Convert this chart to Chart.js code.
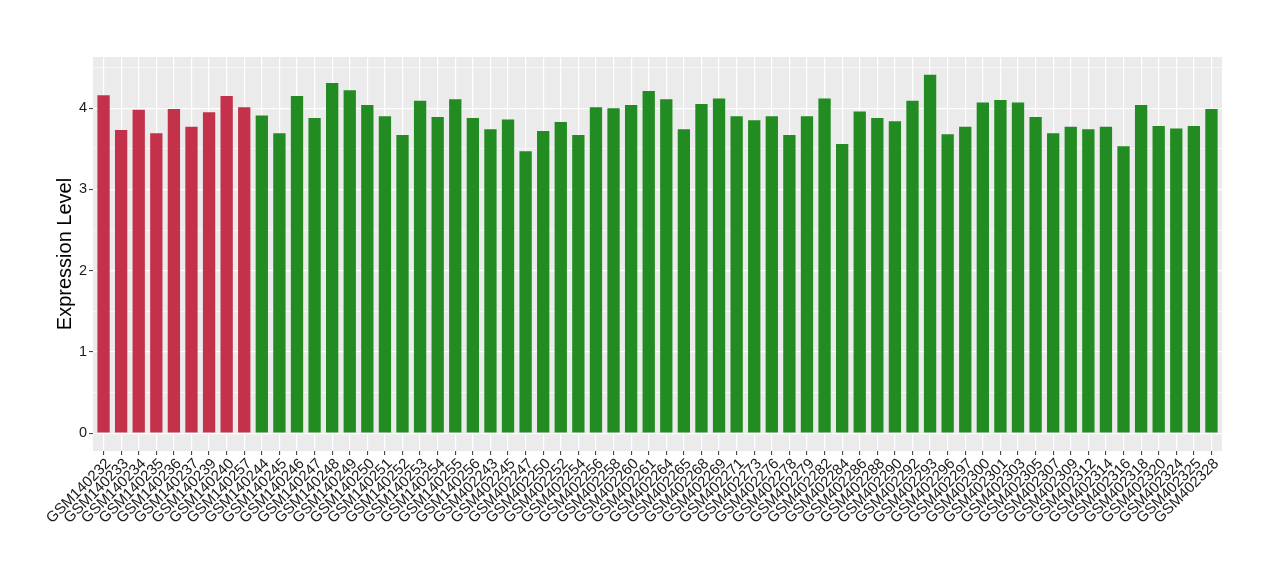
<!DOCTYPE html>
<html>
<head>
<meta charset="utf-8">
<script src="https://cdn.jsdelivr.net/npm/chart.js@4/dist/chart.umd.min.js"></script>
<style>
  html, body { margin: 0; padding: 0; background: #fff; }
  #wrap { width: 1280px; height: 580px; }
</style>
</head>
<body>
<div id="wrap"><canvas id="chart" width="1280" height="580"></canvas></div>
<script>
// sample names along the x axis
const samples = [
  'GSM140232', 'GSM140233', 'GSM140234', 'GSM140235', 'GSM140236', 'GSM140237', 'GSM140239', 'GSM140240', 'GSM140257',
  'GSM140244', 'GSM140245', 'GSM140246', 'GSM140247', 'GSM140248', 'GSM140249', 'GSM140250', 'GSM140251', 'GSM140252',
  'GSM140253', 'GSM140254', 'GSM140255', 'GSM140256', 'GSM402243', 'GSM402245', 'GSM402247', 'GSM402250', 'GSM402252',
  'GSM402254', 'GSM402256', 'GSM402258', 'GSM402260', 'GSM402261', 'GSM402264', 'GSM402265', 'GSM402268', 'GSM402269',
  'GSM402271', 'GSM402273', 'GSM402276', 'GSM402278', 'GSM402279', 'GSM402282', 'GSM402284', 'GSM402286', 'GSM402288',
  'GSM402290', 'GSM402292', 'GSM402293', 'GSM402296', 'GSM402297', 'GSM402300', 'GSM402301', 'GSM402303', 'GSM402305',
  'GSM402307', 'GSM402309', 'GSM402312', 'GSM402314', 'GSM402316', 'GSM402318', 'GSM402320', 'GSM402324', 'GSM402325',
  'GSM402328'
];

// expression level per sample
const expression = [
  4.16, 3.73, 3.98, 3.69, 3.99, 3.77, 3.95, 4.15, 4.01,
  3.91, 3.69, 4.15, 3.88, 4.31, 4.22, 4.04, 3.90, 3.67,
  4.09, 3.89, 4.11, 3.88, 3.74, 3.86, 3.47, 3.72, 3.83,
  3.67, 4.01, 4.00, 4.04, 4.21, 4.11, 3.74, 4.05, 4.12,
  3.90, 3.85, 3.90, 3.67, 3.90, 4.12, 3.56, 3.96, 3.88,
  3.84, 4.09, 4.41, 3.68, 3.77, 4.07, 4.10, 4.07, 3.89,
  3.69, 3.77, 3.74, 3.77, 3.53, 4.04, 3.78, 3.75, 3.78,
  3.99
];

// the first group of samples is drawn in red, the rest in green
const redCount = 9;
const yTicks = [0, 0.5, 1, 1.5, 2, 2.5, 3, 3.5, 4, 4.5];

const RED = '#C4314B';
const GREEN = '#228B22';
const FONT = '"Liberation Sans", Arial, Helvetica, sans-serif';

// grey panel behind the plot, like ggplot's theme_grey
const panelBg = {
  id: 'panelBg',
  beforeDraw(chart) {
    const { ctx, chartArea: a } = chart;
    ctx.save();
    ctx.fillStyle = '#EBEBEB';
    ctx.fillRect(a.left, a.top, a.right - a.left, a.bottom - a.top);
    ctx.restore();
  }
};

const isMajor = v => Math.abs(v - Math.round(v)) < 1e-6;

new Chart(document.getElementById('chart'), {
  type: 'bar',
  data: {
    datasets: [{
      data: expression.map((v, i) => ({ x: i, y: v })),
      backgroundColor: expression.map((v, i) => i < redCount ? RED : GREEN),
      barPercentage: 0.7,
      categoryPercentage: 1.0,
      borderWidth: 0
    }]
  },
  options: {
    responsive: false,
    animation: false,
    layout: { padding: { left: 53, right: 58, top: 57, bottom: 0 } },
    plugins: {
      legend: { display: false },
      tooltip: { enabled: false }
    },
    scales: {
      x: {
        type: 'linear',
        offset: false,
        min: -0.6,
        max: samples.length - 1 + 0.6,
        afterBuildTicks: s => { s.ticks = samples.map((_, i) => ({ value: i })); },
        afterFit: s => { s.height = 129; },
        border: { display: false },
        grid: {
          offset: false,
          color: '#FFFFFF',
          lineWidth: 1.2,
          drawTicks: true,
          tickLength: 4,
          tickColor: '#333333',
          tickWidth: 1
        },
        ticks: {
          autoSkip: false,
          minRotation: 45,
          maxRotation: 45,
          padding: 0,
          labelOffset: 5,
          color: '#1a1a1a',
          font: { family: FONT, size: 15 },
          callback: v => samples[Math.round(v)]
        }
      },
      y: {
        min: -0.22,
        max: 4.63,
        afterBuildTicks: s => { s.ticks = yTicks.map(v => ({ value: v })); },
        afterFit: s => { s.width = 40; },
        border: { display: false },
        grid: {
          color: '#FFFFFF',
          lineWidth: c => (c.tick && !isMajor(c.tick.value)) ? 0.6 : 1.2,
          drawTicks: true,
          tickLength: 4,
          tickColor: c => (c.tick && !isMajor(c.tick.value)) ? 'rgba(0,0,0,0)' : '#333333',
          tickWidth: 1
        },
        ticks: {
          padding: 2,
          color: '#1a1a1a',
          font: { family: FONT, size: 14.5 },
          callback: v => isMajor(v) ? String(Math.round(v)) : ''
        },
        title: {
          display: true,
          text: 'Expression Level',
          color: '#000000',
          padding: 0,
          font: { family: FONT, size: 20 }
        }
      }
    }
  },
  plugins: [panelBg]
});
</script>
</body>
</html>
